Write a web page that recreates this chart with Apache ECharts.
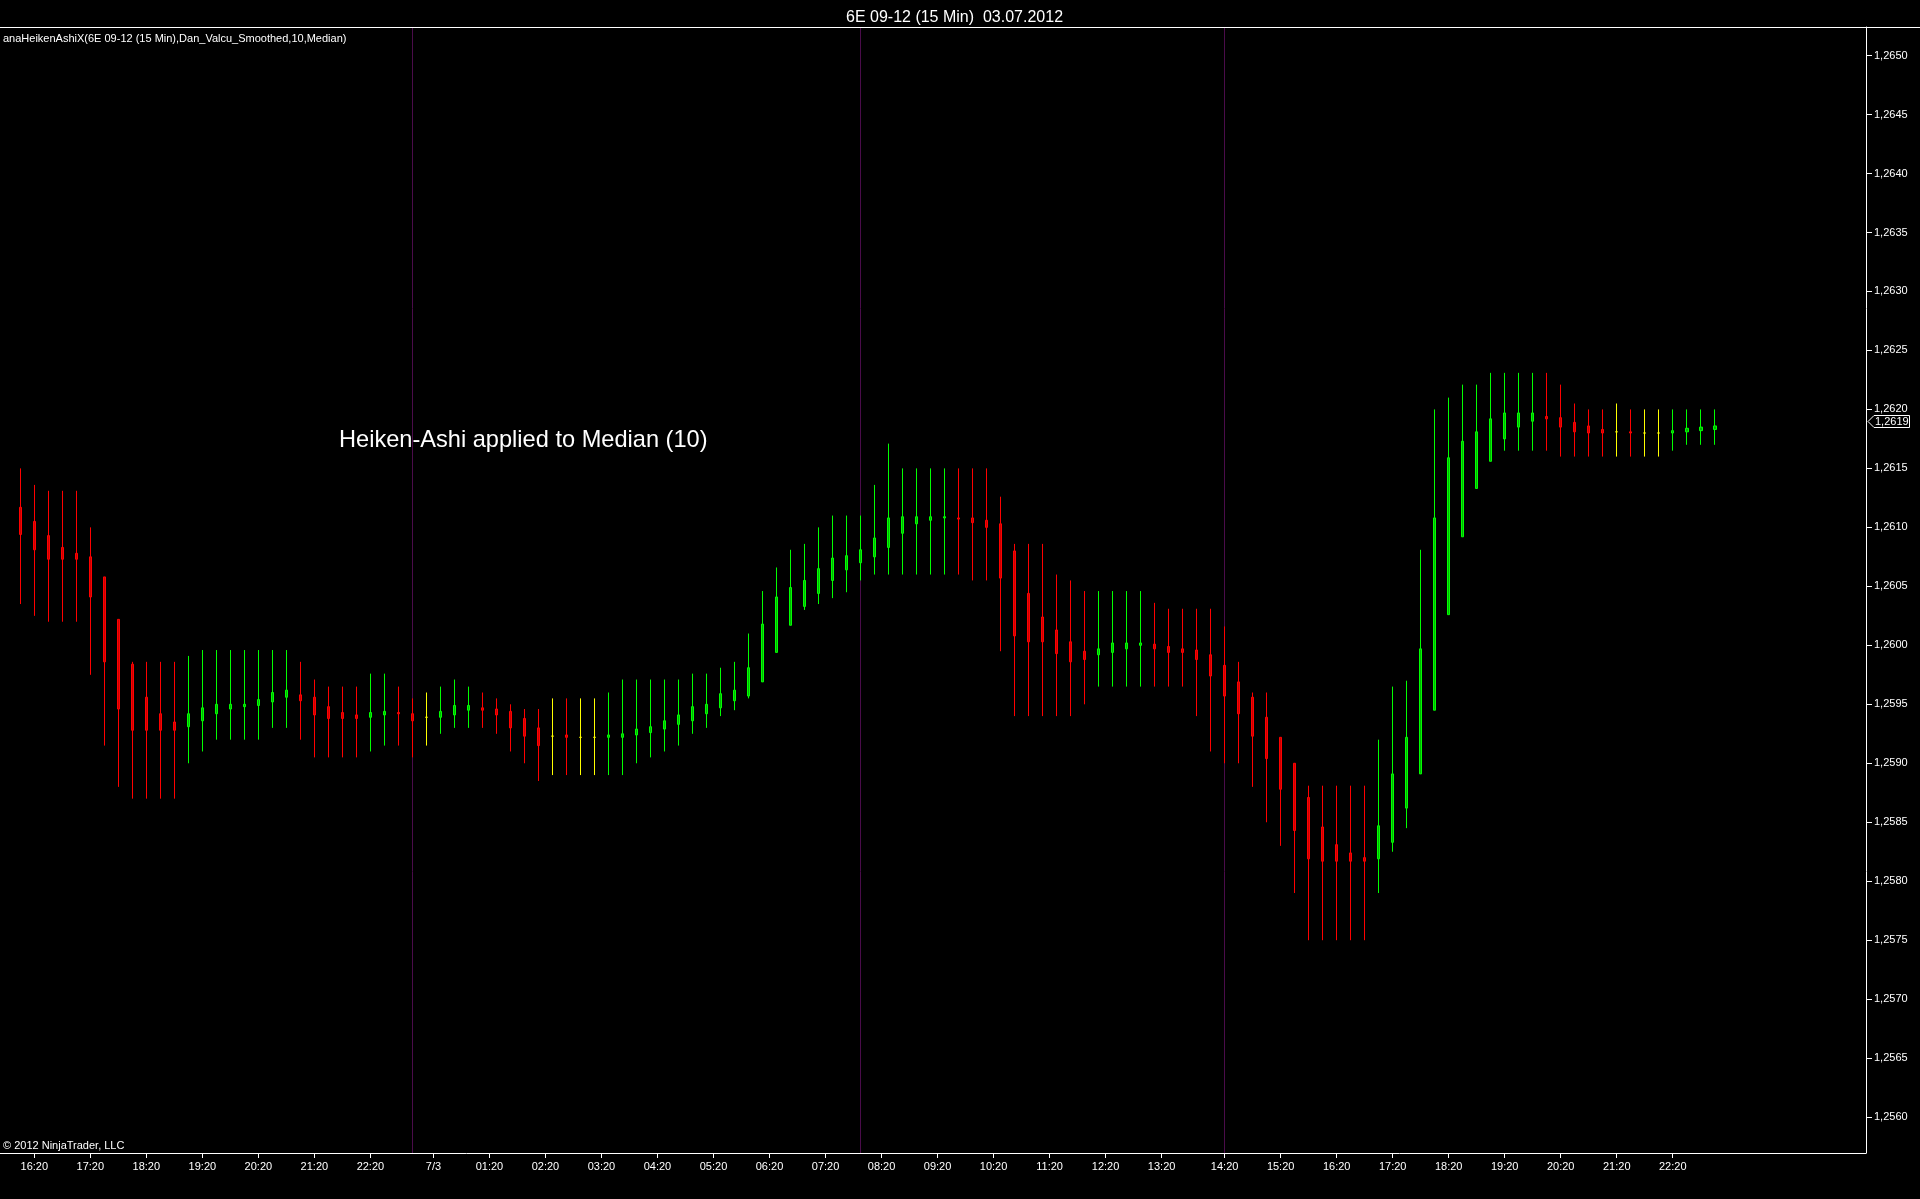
<!DOCTYPE html>
<html>
<head>
<meta charset="utf-8">
<script src="https://cdn.jsdelivr.net/npm/echarts@6/dist/echarts.min.js"></script>
<style>
html,body{margin:0;padding:0;background:#000;}
#chart{width:1920px;height:1199px;}
</style>
</head>
<body>
<div id="chart"></div>
<script>
// ---- Heikin-Ashi values (15 min bars) ----
const haOpen = [
1.26117,1.26105,1.26093,1.26083,1.26078,1.26075,1.26058,1.26022,1.25984,1.25956,
1.25942,1.25935,1.25931,1.25936,1.25942,1.25946,1.25948,1.25949,1.25952,1.25956,
1.25958,1.25956,1.25948,1.25943,1.25941,1.25939,1.25941,1.25943,1.25942,1.25939,
1.25939,1.25941,1.25945,1.25947,1.25946,1.25944,1.25938,1.25930,1.25923,1.25924,
1.25922,1.25922,1.25922,1.25922,1.25924,1.25926,1.25929,1.25933,1.25936,1.25942,
1.25947,1.25953,1.25957,1.25969,1.25994,1.26017,1.26033,1.26044,1.26055,1.26064,
1.26070,1.26075,1.26083,1.26095,1.26103,1.26106,1.26108,1.26108,1.26108,1.26106,
1.26103,1.26080,1.26044,1.26024,1.26013,1.26003,1.25995,1.25992,1.25994,1.25997,
1.26000,1.26001,1.25999,1.25997,1.25996,1.25992,1.25983,1.25969,1.25956,1.25939,
1.25922,1.25900,1.25871,1.25846,1.25831,1.25824,1.25820,1.25819,1.25833,1.25862,
1.25891,1.25945,1.26026,1.26092,1.26133,1.26156,1.26175,1.26185,1.26190,1.26194,
1.26193,1.26189,1.26186,1.26183,1.26181,1.26181,1.26180,1.26180,1.26180,1.26181,
1.26182,1.26183];
const haClose = [
1.26094,1.26081,1.26073,1.26073,1.26073,1.26041,1.25986,1.25946,1.25928,1.25928,
1.25928,1.25928,1.25942,1.25947,1.25950,1.25950,1.25950,1.25954,1.25960,1.25962,
1.25953,1.25941,1.25938,1.25938,1.25938,1.25943,1.25944,1.25942,1.25936,1.25939,
1.25944,1.25949,1.25949,1.25945,1.25941,1.25930,1.25923,1.25915,1.25923,1.25922,
1.25922,1.25922,1.25924,1.25925,1.25929,1.25931,1.25936,1.25941,1.25948,1.25950,
1.25959,1.25962,1.25981,1.26018,1.26041,1.26049,1.26055,1.26065,1.26074,1.26076,
1.26081,1.26091,1.26108,1.26109,1.26109,1.26109,1.26109,1.26107,1.26104,1.26100,
1.26057,1.26008,1.26003,1.26003,1.25993,1.25986,1.25988,1.25997,1.26002,1.26002,
1.26002,1.25997,1.25994,1.25994,1.25988,1.25974,1.25957,1.25942,1.25923,1.25904,
1.25878,1.25843,1.25819,1.25817,1.25817,1.25817,1.25817,1.25847,1.25891,1.25922,
1.25997,1.26108,1.26159,1.26173,1.26181,1.26192,1.26197,1.26197,1.26197,1.26192,
1.26185,1.26181,1.26180,1.26180,1.26181,1.26180,1.26180,1.26180,1.26182,1.26184,
1.26185,1.26186];
const haLow = [
1.26035,1.26025,1.26020,1.26020,1.26020,1.25975,1.25915,1.25880,1.25870,1.25870,
1.25870,1.25870,1.25900,1.25910,1.25920,1.25920,1.25920,1.25920,1.25930,1.25930,
1.25920,1.25905,1.25905,1.25905,1.25905,1.25910,1.25915,1.25915,1.25905,1.25915,
1.25925,1.25930,1.25930,1.25930,1.25925,1.25910,1.25900,1.25885,1.25890,1.25890,
1.25890,1.25890,1.25890,1.25890,1.25900,1.25905,1.25910,1.25915,1.25925,1.25930,
1.25940,1.25945,1.25955,1.25969,1.25994,1.26017,1.26030,1.26035,1.26040,1.26045,
1.26055,1.26060,1.26060,1.26060,1.26060,1.26060,1.26060,1.26060,1.26055,1.26055,
1.25995,1.25940,1.25940,1.25940,1.25940,1.25940,1.25950,1.25965,1.25965,1.25965,
1.25965,1.25965,1.25965,1.25965,1.25940,1.25910,1.25900,1.25900,1.25880,1.25850,
1.25830,1.25790,1.25750,1.25750,1.25750,1.25750,1.25750,1.25790,1.25825,1.25845,
1.25891,1.25945,1.26026,1.26092,1.26133,1.26156,1.26165,1.26165,1.26165,1.26165,
1.26160,1.26160,1.26160,1.26160,1.26160,1.26160,1.26160,1.26160,1.26165,1.26170,
1.26170,1.26170];
const haHigh = [
1.26150,1.26136,1.26131,1.26131,1.26131,1.26100,1.26058,1.26022,1.25986,1.25986,
1.25986,1.25986,1.25991,1.25996,1.25996,1.25996,1.25996,1.25996,1.25996,1.25996,
1.25986,1.25971,1.25965,1.25965,1.25965,1.25976,1.25976,1.25965,1.25955,1.25960,
1.25965,1.25971,1.25965,1.25960,1.25955,1.25950,1.25946,1.25946,1.25955,1.25955,
1.25955,1.25955,1.25960,1.25971,1.25971,1.25971,1.25971,1.25971,1.25976,1.25976,
1.25981,1.25986,1.26010,1.26046,1.26066,1.26081,1.26086,1.26100,1.26110,1.26110,
1.26110,1.26136,1.26171,1.26150,1.26150,1.26150,1.26150,1.26150,1.26150,1.26150,
1.26126,1.26086,1.26086,1.26086,1.26060,1.26055,1.26046,1.26046,1.26046,1.26046,
1.26046,1.26036,1.26031,1.26031,1.26031,1.26031,1.26016,1.25986,1.25960,1.25960,
1.25922,1.25900,1.25881,1.25881,1.25881,1.25881,1.25881,1.25920,1.25965,1.25970,
1.26081,1.26200,1.26210,1.26221,1.26221,1.26231,1.26231,1.26231,1.26231,1.26231,
1.26221,1.26205,1.26200,1.26200,1.26205,1.26200,1.26200,1.26200,1.26200,1.26200,
1.26200,1.26200];
// bar colour state, ten bars per group: r = down, g = up, y = neutral
const barColor = [
"rrrrrrrrrr", "rrgggggggg", "rrrrrggrry", "gggrrrrryr", "yygggggggg",
"gggggggggg", "gggggggrrr", "rrrrrrrggg", "grrrrrrrrr", "rrrrrrrggg",
"gggggggggr", "rrrryryygg", "gg"
].join("");
const xTickPos = [1,5,9,13,17,21,25,29.5,33.5,37.5,41.5,45.5,49.5,53.5,57.5,61.5,65.5,69.5,73.5,77.5,81.5,86,90,94,98,102,106,110,114,118];
const xTickLabels = ["16:20","17:20","18:20","19:20","20:20","21:20","22:20","7/3","01:20","02:20","03:20","04:20","05:20","06:20","07:20","08:20","09:20","10:20","11:20","12:20","13:20","14:20","15:20","16:20","17:20","18:20","19:20","20:20","21:20","22:20"];
const yTickValues = [1.2560,1.2565,1.2570,1.2575,1.2580,1.2585,1.2590,1.2595,1.2600,1.2605,1.2610,1.2615,1.2620,1.2625,1.2630,1.2635,1.2640,1.2645,1.2650];
const sessionBreaks = [28, 60, 86];
const lastPrice = 1.2619;
const titleText = "6E 09-12 (15 Min)  03.07.2012";
const indicatorText = "anaHeikenAshiX(6E 09-12 (15 Min),Dan_Valcu_Smoothed,10,Median)";
const noteText = "Heiken-Ashi applied to Median (10)";
const copyText = "\u00A9 2012 NinjaTrader, LLC";

const FONT = "'Liberation Sans', Arial, sans-serif";
const palette = {
  r: {border: '#ff0000', fill: '#c80000'},
  g: {border: '#00ff00', fill: '#00b400'},
  y: {border: '#ffff00', fill: '#c8c800'}
};

const candleData = haOpen.map((o, i) => {
  const p = palette[barColor[i]] || palette.g;
  return {
    value: [i, o, haClose[i], haLow[i], haHigh[i]],
    itemStyle: {
      color: p.fill, color0: p.fill,
      borderColor: p.border, borderColor0: p.border, borderColorDoji: p.border
    }
  };
});

const fmtY = v => v.toFixed(4).replace('.', ',');

const chart = echarts.init(document.getElementById('chart'), null, {renderer: 'canvas'});
const baseGraphics = [
  {type: 'line', shape: {x1: 0, y1: 27.5, x2: 1920, y2: 27.5}, style: {stroke: '#ffffff', lineWidth: 1}, silent: true, z: 10},
  {type: 'text', left: 3, top: 33, style: {text: indicatorText, fill: '#ffffff', font: "11px " + FONT}, silent: true, z: 10},
  {type: 'text', left: 339, top: 428, style: {text: noteText, fill: '#ffffff', font: "23.6px " + FONT}, silent: true, z: 10},
  {type: 'text', left: 3, top: 1140, style: {text: copyText, fill: '#ffffff', font: "11px " + FONT}, silent: true, z: 10}
];
const option = {
  backgroundColor: '#000000',
  animation: false,
  title: {
    text: titleText, left: 841, top: 5,
    textStyle: {color: '#ffffff', fontSize: 16, fontWeight: 'normal', fontFamily: FONT}
  },
  grid: {left: 0, right: 54, top: 27, bottom: 46, containLabel: false},
  xAxis: {
    type: 'value', min: -1.45, max: 131.8,
    axisLine: {show: true, lineStyle: {color: '#ffffff', width: 1}},
    axisTick: {show: true, length: 5, customValues: xTickPos, lineStyle: {color: '#ffffff'}},
    axisLabel: {
      show: true, customValues: xTickPos, color: '#ffffff', fontSize: 11, fontFamily: FONT, margin: 8,
      formatter: v => {
        const k = xTickPos.findIndex(p => Math.abs(p - v) < 1e-6);
        return k >= 0 ? xTickLabels[k] : '';
      }
    },
    splitLine: {show: false}
  },
  yAxis: {
    type: 'value', position: 'right', min: 1.255696, max: 1.265242,
    axisLine: {show: true, onZero: false, lineStyle: {color: '#ffffff', width: 1}},
    axisTick: {show: true, length: 6, customValues: yTickValues, lineStyle: {color: '#ffffff'}},
    axisLabel: {show: true, customValues: yTickValues, color: '#ffffff', fontSize: 11, fontFamily: FONT, margin: 8, formatter: fmtY},
    splitLine: {show: false}
  },
  series: [{
    type: 'candlestick',
    data: candleData,
    encode: {x: 0, y: [1, 2, 3, 4]},
    barWidth: 3,
    z: 3,
    itemStyle: {borderWidth: 1},
    emphasis: {disabled: true},
    markLine: {
      silent: true, z: 1, symbol: ['none', 'none'], animation: false,
      label: {show: false},
      lineStyle: {color: '#4a0c4a', width: 1, type: 'solid'},
      emphasis: {disabled: true},
      data: sessionBreaks.map(v => ({xAxis: v}))
    }
  }],
  graphic: baseGraphics
};
chart.setOption(option);

// last price marker on the right axis, positioned via the axis scale
const yc = Math.round(chart.convertToPixel({yAxisIndex: 0}, lastPrice)) + 0.5;
const ax = 1866;
chart.setOption({
  graphic: baseGraphics.concat([
    {type: 'polygon', shape: {points: [[ax + 2, yc], [ax + 8, yc - 6], [1909.5, yc - 6], [1909.5, yc + 6], [ax + 8, yc + 6]]},
     style: {fill: '#000000', stroke: '#ffffff', lineWidth: 1}, silent: true, z: 20},
    {type: 'text', x: ax + 9, y: yc, style: {text: fmtY(lastPrice), fill: '#ffffff', font: "11px " + FONT, textVerticalAlign: 'middle', verticalAlign: 'middle'}, silent: true, z: 21}
  ])
});
</script>
</body>
</html>
